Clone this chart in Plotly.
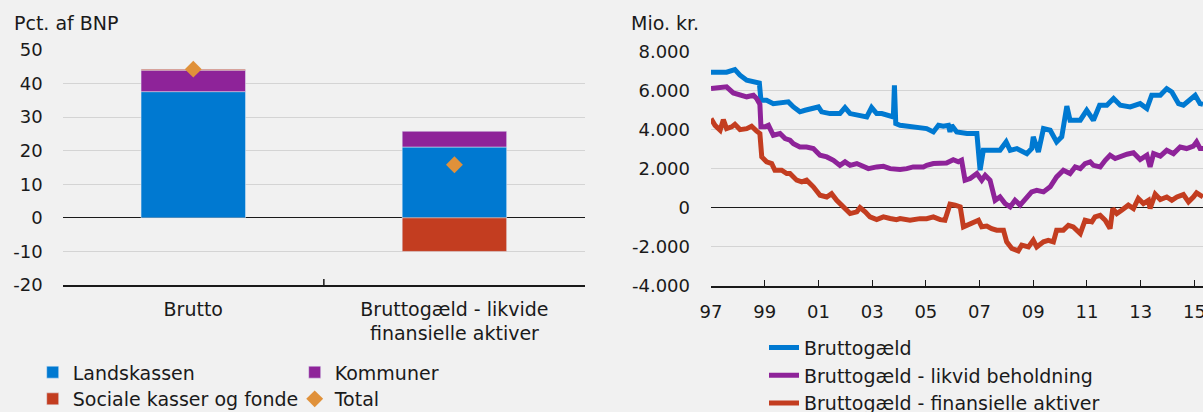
import plotly.graph_objects as go

# ---------------- Left chart data ----------------
categories = ["Brutto", "Bruttogæld - likvide<br>finansielle aktiver"]
landskassen = [37.6, 21.1]
kommuner = [6.4, 4.7]
sociale = [0.3, -10.0]
total = [44.3, 15.8]

left_tickvals = [-20, -10, 0, 10, 20, 30, 40, 50]
left_ticktext = ["-20", "-10", "0", "10", "20", "30", "40", "50"]

# ---------------- Right chart data ----------------
brutto_years = [1997.00, 1997.46, 1997.58, 1997.89, 1998.08, 1998.33, 1998.58, 1998.80, 1998.86,
                1999.07, 1999.32, 1999.57, 1999.88, 2000.07, 2000.31, 2000.50, 2000.81, 2001.00,
                2001.12, 2001.43, 2001.80, 2001.99, 2002.18, 2002.43, 2002.80, 2002.98, 2003.17,
                2003.36, 2003.67, 2003.79, 2003.83, 2003.88, 2004.04, 2004.41, 2004.78, 2005.03,
                2005.28, 2005.47, 2005.65, 2005.84, 2005.90, 2005.96, 2006.15, 2006.53, 2006.90,
                2007.02, 2007.14, 2007.39, 2007.76, 2007.99, 2008.14, 2008.39, 2008.76, 2008.94,
                2009.00, 2009.19, 2009.38, 2009.63, 2009.87, 2010.06, 2010.25, 2010.37, 2010.75,
                2010.99, 2011.24, 2011.47, 2011.74, 2011.99, 2012.24, 2012.61, 2012.98, 2013.23,
                2013.41, 2013.73, 2013.97, 2014.16, 2014.41, 2014.59, 2015.03, 2015.21, 2015.32]
brutto_vals = [6950, 6900, 6950, 7080, 6800, 6540, 6490, 6400, 5510,
               5510, 5340, 5380, 5430, 5170, 4920, 5000, 5090, 5170,
               4920, 4830, 4830, 5140, 4830, 4750, 4660, 5140, 4830,
               4830, 4660, 4660, 6280, 4320, 4230, 4180, 4110, 4060,
               3890, 4230, 4180, 4230, 3890, 4230, 3890, 3810, 3810,
               1930, 2950, 2950, 2950, 3380, 2950, 3040, 2780, 3040,
               3640, 2870, 4060, 3980, 3380, 3640, 5210, 4490, 4490,
               5000, 4490, 5260, 5260, 5600, 5260, 5170, 5340, 5090,
               5770, 5770, 6110, 5940, 5340, 5260, 5770, 5340, 5300]

likvid_years = [1997.00, 1997.34, 1997.58, 1997.83, 1998.08, 1998.33, 1998.58, 1998.70, 1998.82,
                1998.86, 1999.01, 1999.14, 1999.32, 1999.57, 1999.76, 1999.94, 2000.07, 2000.31,
                2000.56, 2000.81, 2001.06, 2001.31, 2001.56, 2001.80, 2001.99, 2002.18, 2002.43,
                2002.67, 2002.86, 2003.17, 2003.42, 2003.67, 2004.04, 2004.29, 2004.53, 2004.91,
                2005.03, 2005.28, 2005.53, 2005.77, 2006.02, 2006.21, 2006.33, 2006.46, 2006.65,
                2006.90, 2007.08, 2007.21, 2007.39, 2007.58, 2007.76, 2007.95, 2008.14, 2008.32,
                2008.51, 2008.70, 2008.94, 2009.13, 2009.38, 2009.63, 2009.87, 2010.12, 2010.37,
                2010.56, 2010.75, 2010.93, 2011.12, 2011.24, 2011.49, 2011.68, 2011.86, 2012.05,
                2012.24, 2012.49, 2012.73, 2012.98, 2013.23, 2013.35, 2013.48, 2013.73, 2013.97,
                2014.22, 2014.47, 2014.71, 2014.96, 2015.08, 2015.21, 2015.32]
likvid_vals = [6110, 6160, 6200, 5890, 5800, 5690, 5770, 5600, 5310,
               4150, 4150, 4230, 3720, 3810, 3550, 3470, 3290, 3120,
               3120, 3040, 2700, 2610, 2440, 2180, 2360, 2180, 2270,
               2100, 2010, 2100, 2130, 2010, 1970, 2010, 2100, 2100,
               2180, 2270, 2270, 2300, 2470, 2360, 2440, 1420, 1500,
               1760, 1420, 1670, 1420, 390, 560, 220, 50, 390,
               140, 480, 820, 900, 820, 1080, 1590, 1930, 1760,
               2100, 2010, 2270, 2360, 2180, 2100, 2440, 2700, 2530,
               2650, 2750, 2820, 2480, 2700, 2100, 2780, 2650, 2950,
               2780, 3120, 3040, 3160, 3380, 3040, 3040]

fin_years = [1997.00, 1997.15, 1997.34, 1997.46, 1997.58, 1997.77, 1997.89, 1998.08, 1998.33,
             1998.51, 1998.70, 1998.82, 1998.89, 1999.07, 1999.26, 1999.38, 1999.63, 1999.82,
             1999.94, 2000.19, 2000.38, 2000.56, 2000.81, 2001.06, 2001.31, 2001.49, 2001.68,
             2001.93, 2002.18, 2002.43, 2002.55, 2002.74, 2002.92, 2003.17, 2003.42, 2003.67,
             2003.91, 2004.04, 2004.41, 2004.78, 2005.03, 2005.28, 2005.53, 2005.71, 2005.90,
             2006.09, 2006.28, 2006.40, 2006.65, 2006.96, 2007.08, 2007.27, 2007.45, 2007.64,
             2007.89, 2008.01, 2008.20, 2008.44, 2008.57, 2008.82, 2009.00, 2009.13, 2009.38,
             2009.56, 2009.75, 2009.87, 2010.12, 2010.31, 2010.49, 2010.75, 2010.93, 2011.18,
             2011.30, 2011.49, 2011.68, 2011.86, 2011.96, 2012.11, 2012.29, 2012.54, 2012.73,
             2012.91, 2013.10, 2013.29, 2013.35, 2013.54, 2013.73, 2013.97, 2014.16, 2014.35,
             2014.59, 2014.78, 2014.96, 2015.08, 2015.32]
fin_vals = [4570, 4230, 3980, 4520, 4060, 4150, 4280, 4010, 4060,
            4180, 3930, 3810, 2610, 2360, 2270, 1930, 1930, 1760,
            1760, 1420, 1330, 1420, 1080, 650, 560, 730, 390,
            50, -290, -200, 20, -200, -460, -600, -460, -540,
            -600, -550, -630, -550, -550, -460, -600, -630, 190,
            140, 50, -970, -800, -630, -970, -930, -1060, -1140,
            -1140, -1740, -2080, -2200, -1910, -2000, -1660, -2000, -1740,
            -1660, -1740, -1140, -1140, -890, -970, -1310, -630, -720,
            -460, -380, -630, -1060, -30, -290, -120, 140, -30,
            480, 220, 390, -30, 700, 430, 560, 390, 560,
            680, 310, 560, 770, 560]

right_tickvals_y = [-4000, -2000, 0, 2000, 4000, 6000, 8000]
right_ticktext_y = ["-4.000", "-2.000", "0", "2.000", "4.000", "6.000", "8.000"]
right_tickvals_x = [1997, 1999, 2001, 2003, 2005, 2007, 2009, 2011, 2013, 2015]
right_ticktext_x = ["97", "99", "01", "03", "05", "07", "09", "11", "13", "15"]

# ---------------- Styling ----------------
BLUE = "#0079D1"
PURPLE = "#8E2399"
RED = "#C33D20"
ORANGE = "#E0913A"
BG = "#F1F1F1"
GRID = "#D4D4D4"
AXIS = "#1A1A1A"
FONT = "DejaVu Sans"
TXT = "#1A1A1A"

fig = go.Figure()

fig.add_trace(go.Bar(x=categories, y=landskassen, name="Landskassen", marker=dict(color=BLUE),
                     width=0.4, xaxis="x", yaxis="y", legend="legend"))
fig.add_trace(go.Bar(x=categories, y=kommuner, name="Kommuner", marker=dict(color=PURPLE),
                     width=0.4, xaxis="x", yaxis="y", legend="legend"))
fig.add_trace(go.Bar(x=categories, y=sociale, name="Sociale kasser og fonde", marker=dict(color=RED),
                     width=0.4, xaxis="x", yaxis="y", legend="legend2"))
fig.add_trace(go.Scatter(x=categories, y=total, name="Total", mode="markers",
                         marker=dict(symbol="diamond", size=13, color=ORANGE),
                         xaxis="x", yaxis="y", legend="legend2"))

fig.add_trace(go.Scatter(x=brutto_years, y=brutto_vals, name="Bruttogæld", mode="lines",
                         line=dict(color=BLUE, width=5), xaxis="x2", yaxis="y2", legend="legend3"))
fig.add_trace(go.Scatter(x=likvid_years, y=likvid_vals, name="Bruttogæld - likvid beholdning", mode="lines",
                         line=dict(color=PURPLE, width=5), xaxis="x2", yaxis="y2", legend="legend3"))
fig.add_trace(go.Scatter(x=fin_years, y=fin_vals, name="Bruttogæld - finansielle aktiver", mode="lines",
                         line=dict(color=RED, width=5), xaxis="x2", yaxis="y2", legend="legend3"))

W, H = 1203, 412

leg_common = dict(orientation="h", bgcolor="rgba(0,0,0,0)", borderwidth=0,
                  font=dict(family=FONT, size=19, color=TXT), xanchor="left", yanchor="top",
                  entrywidth=217, entrywidthmode="pixels", itemclick=False, itemdoubleclick=False)

fig.update_layout(
    width=W, height=H,
    margin=dict(l=0, r=0, t=0, b=0, autoexpand=False),
    paper_bgcolor=BG, plot_bgcolor=BG,
    font=dict(family=FONT, size=18, color=TXT),
    barmode="relative",
    bargap=0.6,
    xaxis=dict(domain=[62.7 / W, 585 / W], type="category", range=[-0.5, 1.5],
               showline=True, linecolor=AXIS, linewidth=1.5, showgrid=False, zeroline=False,
               ticks="", tickfont=dict(size=19), anchor="y", ticklabelstandoff=6),
    yaxis=dict(domain=[1 - 285 / H, 1 - 50 / H], range=[-20, 50], tickvals=left_tickvals,
               ticktext=left_ticktext, showgrid=True, gridcolor=GRID, gridwidth=1,
               zeroline=True, zerolinecolor=AXIS, zerolinewidth=1.2, showline=False,
               ticks="", anchor="x", ticklabelstandoff=19),
    xaxis2=dict(domain=[711 / W, 1.0], range=[1997, 2015.32], tickvals=right_tickvals_x,
                ticktext=right_ticktext_x, showline=True, linecolor=AXIS, linewidth=1.5,
                showgrid=False, zeroline=False, ticks="inside", ticklen=6, tickwidth=1.2,
                tickcolor=AXIS, anchor="y2", ticklabeloverflow="allow", ticklabelstandoff=9),
    yaxis2=dict(domain=[1 - 286 / H, 1 - 51.7 / H], range=[-4000, 8000], tickvals=right_tickvals_y,
                ticktext=right_ticktext_y, showgrid=True, gridcolor=GRID, gridwidth=1,
                zeroline=True, zerolinecolor=AXIS, zerolinewidth=1.2, showline=False,
                ticks="", anchor="x2", ticklabelstandoff=20),
    legend=dict(leg_common, x=32.7 / W, y=1 - 353.3 / H),
    legend2=dict(leg_common, x=32.7 / W, y=1 - 380 / H),
    legend3=dict(orientation="v", bgcolor="rgba(0,0,0,0)", borderwidth=0,
                 font=dict(family=FONT, size=19, color=TXT), xanchor="left", yanchor="top",
                 x=764 / W, y=1 - 328.7 / H, itemclick=False, itemdoubleclick=False),
    showlegend=True,
    annotations=[
        dict(text="Pct. af BNP", x=11.7 / W, y=1 - 22.7 / H, xref="paper", yref="paper",
             xanchor="left", yanchor="middle", showarrow=False, font=dict(size=19, color=TXT)),
        dict(text="Mio. kr.", x=629 / W, y=1 - 22.7 / H, xref="paper", yref="paper",
             xanchor="left", yanchor="middle", showarrow=False, font=dict(size=19, color=TXT)),
    ],
    shapes=[
        dict(type="line", xref="x", yref="y", x0=0.5, x1=0.5, y0=-20, y1=-18.2,
             line=dict(color=AXIS, width=1.5)),
    ],
)

fig.write_html("out.html", config={"displayModeBar": False},
               post_script="document.body.style.margin='0';document.body.style.background='%s';" % BG)
